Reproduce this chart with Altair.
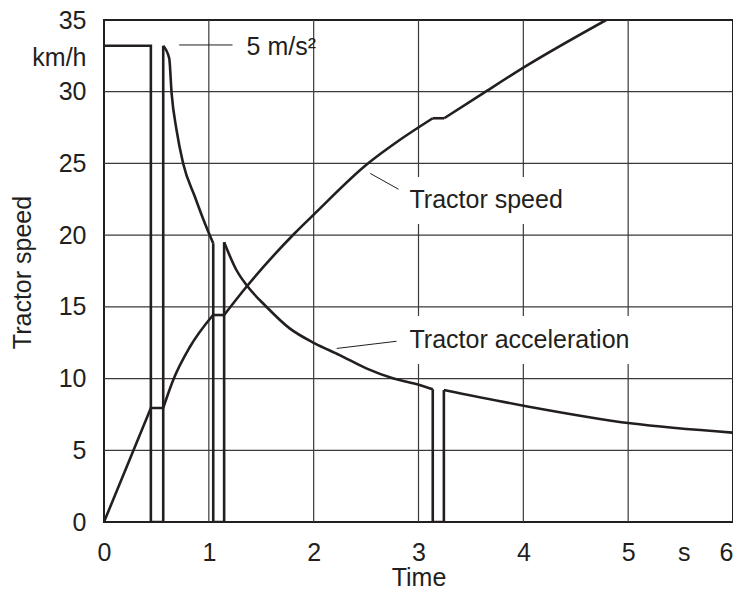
import altair as alt
import pandas as pd

# ---- data (pieces split where gear shifts happen) ----
# straight pieces (ramp, flats, shift steps)
speed_lin_t = [[0, 0.447, 0.565], [1.04, 1.146], [3.136, 3.245]]
speed_lin_v = [[0, 7.95, 7.95], [14.43, 14.43], [28.15, 28.15]]
# curved pieces
speed_cur_t = [[0.565, 0.66, 0.819, 1.04],
               [1.146, 1.359, 1.819, 2.01, 2.5, 2.82, 3.136],
               [3.245, 3.63, 4.016, 4.79]]
speed_cur_v = [[7.95, 9.9, 12.2, 14.43],
               [14.43, 16.4, 20.13, 21.5, 24.89, 26.63, 28.15],
               [28.15, 29.96, 31.75, 35.0]]

accel_lin_t = [[0, 0.447, 0.447, 0.565, 0.565], [1.042, 1.042, 1.146, 1.146], [3.136, 3.136, 3.242, 3.242]]
accel_lin_a = [[33.2, 33.2, 0, 0, 33.2], [19.43, 0, 0, 19.5], [9.25, 0, 0, 9.2]]
accel_cur_t = [[0.565, 0.622, 0.645, 0.692, 0.755, 0.867, 0.962, 1.042],
               [1.146, 1.263, 1.359, 1.549, 1.771, 2.01, 2.248, 2.502, 2.755, 3.01, 3.136],
               [3.242, 4.016, 5.022, 5.993]]
accel_cur_a = [[33.2, 32.33, 29.89, 27.33, 25.0, 22.68, 20.83, 19.43],
               [19.5, 17.57, 16.52, 15.01, 13.5, 12.46, 11.64, 10.71, 10.02, 9.55, 9.25],
               [9.2, 8.09, 6.88, 6.23]]

x_grid = [1, 2, 3, 4, 5]
y_grid = [5, 10, 15, 20, 25, 30]

x_tick_values = [0, 1, 2, 3, 4, 5, 5.53, 6]
x_tick_labels = ["0", "1", "2", "3", "4", "5", "s", "6"]
y_tick_values = [0, 5, 10, 15, 20, 25, 30, 32.4, 35]
y_tick_labels = ["0", "5", "10", "15", "20", "25", "30", "km/h", "35"]

label_texts = ["5 m/s²", "Tractor speed", "Tractor acceleration"]
label_x = [1.36, 2.914, 2.914]
label_y = [32.56, 21.9, 12.13]

# white boxes behind labels (break the grid)
box_x = [2.85, 2.85]
box_x2 = [4.55, 5.4]
box_y = [20.78, 11.02]
box_y2 = [24.05, 14.36]

# leader lines
lead_x = [0.717, 2.54, 2.22]
lead_y = [33.26, 24.3, 12.1]
lead_x2 = [1.226, 2.81, 2.79]
lead_y2 = [33.26, 23.2, 12.6]

FONT = "Liberation Sans"
INK = "#231f20"
FS = 25


def label_expr(values, labels):
    parts = [f"datum.value == {v} ? '{l}'" for v, l in zip(values, labels)]
    return " : ".join(parts) + " : ''"


def pieces(ts, vs):
    rows = []
    for s, (tl, vl) in enumerate(zip(ts, vs)):
        for i, (t, v) in enumerate(zip(tl, vl)):
            rows.append({"seg": s, "o": i, "t": t, "v": v})
    return pd.DataFrame(rows)


xs = alt.Scale(domain=[0, 6], nice=False, zero=False)
ys = alt.Scale(domain=[0, 35], nice=False, zero=False)

x_axis = alt.Axis(values=x_tick_values, labelExpr=label_expr(x_tick_values, x_tick_labels),
                  grid=False, ticks=False, domain=False, labelPadding=18, labelFlush=False,
                  labelOverlap=False, title="Time", titleY=43, titleBaseline="top",
                  titleFontWeight="normal",
                  labelAlign={"condition": {"test": "datum.value == 6", "value": "right"},
                              "value": "center"})
y_axis = alt.Axis(values=y_tick_values, labelExpr=label_expr(y_tick_values, y_tick_labels),
                  grid=False, ticks=False, domain=False, labelPadding=18, labelFlush=False,
                  labelOverlap=False, title="Tractor speed", titleX=-82, titleY=252,
                  titleAngle=270, titleAlign="center", titleBaseline="middle",
                  titleFontWeight="normal")


def X(field):
    return alt.X(field, scale=xs, axis=x_axis, title="Time")


def Y(field):
    return alt.Y(field, scale=ys, axis=y_axis, title="Tractor speed")


vgrid = alt.Chart(pd.DataFrame({"x": x_grid})).mark_rule(color="#3a3a3a", strokeWidth=1.2).encode(
    x=X("x:Q"))
hgrid = alt.Chart(pd.DataFrame({"y": y_grid})).mark_rule(color="#3a3a3a", strokeWidth=1.2).encode(
    y=Y("y:Q"))

boxes = alt.Chart(pd.DataFrame({"x": box_x, "x2": box_x2, "y": box_y, "y2": box_y2})).mark_rect(
    color="white").encode(x=X("x:Q"), x2="x2:Q", y=Y("y:Q"), y2="y2:Q")

leaders = alt.Chart(pd.DataFrame({"x": lead_x, "y": lead_y, "x2": lead_x2, "y2": lead_y2})).mark_rule(
    color=INK, strokeWidth=1).encode(x=X("x:Q"), x2="x2:Q", y=Y("y:Q"), y2="y2:Q")

texts = alt.Chart(pd.DataFrame({"x": label_x, "y": label_y, "txt": label_texts})).mark_text(
    align="left", baseline="alphabetic", font=FONT, fontSize=FS, color=INK).encode(
    x=X("x:Q"), y=Y("y:Q"), text="txt:N")


def line_layer(df, interp):
    return alt.Chart(df).mark_line(color=INK, strokeWidth=2.6, clip=True, interpolate=interp,
                                   strokeJoin="miter", strokeCap="butt").encode(
        x=X("t:Q"), y=Y("v:Q"), detail="seg:N", order="o:Q")


speed_lin = line_layer(pieces(speed_lin_t, speed_lin_v), "linear")
speed_cur = line_layer(pieces(speed_cur_t, speed_cur_v), "monotone")
accel_lin = line_layer(pieces(accel_lin_t, accel_lin_a), "linear")
accel_cur = line_layer(pieces(accel_cur_t, accel_cur_a), "monotone")

chart = alt.layer(vgrid, hgrid, boxes, leaders, texts,
                  accel_lin, accel_cur, speed_lin, speed_cur).properties(
    width=629, height=502, autosize="none",
    padding={"left": 96, "top": 12, "right": 0, "bottom": 66},
).configure_view(stroke=INK, strokeWidth=2).configure_axis(
    labelFont=FONT, titleFont=FONT, labelFontSize=FS, titleFontSize=FS,
    labelColor=INK, titleColor=INK)

chart.save("out.html", embed_options={"renderer": "svg", "actions": False})
